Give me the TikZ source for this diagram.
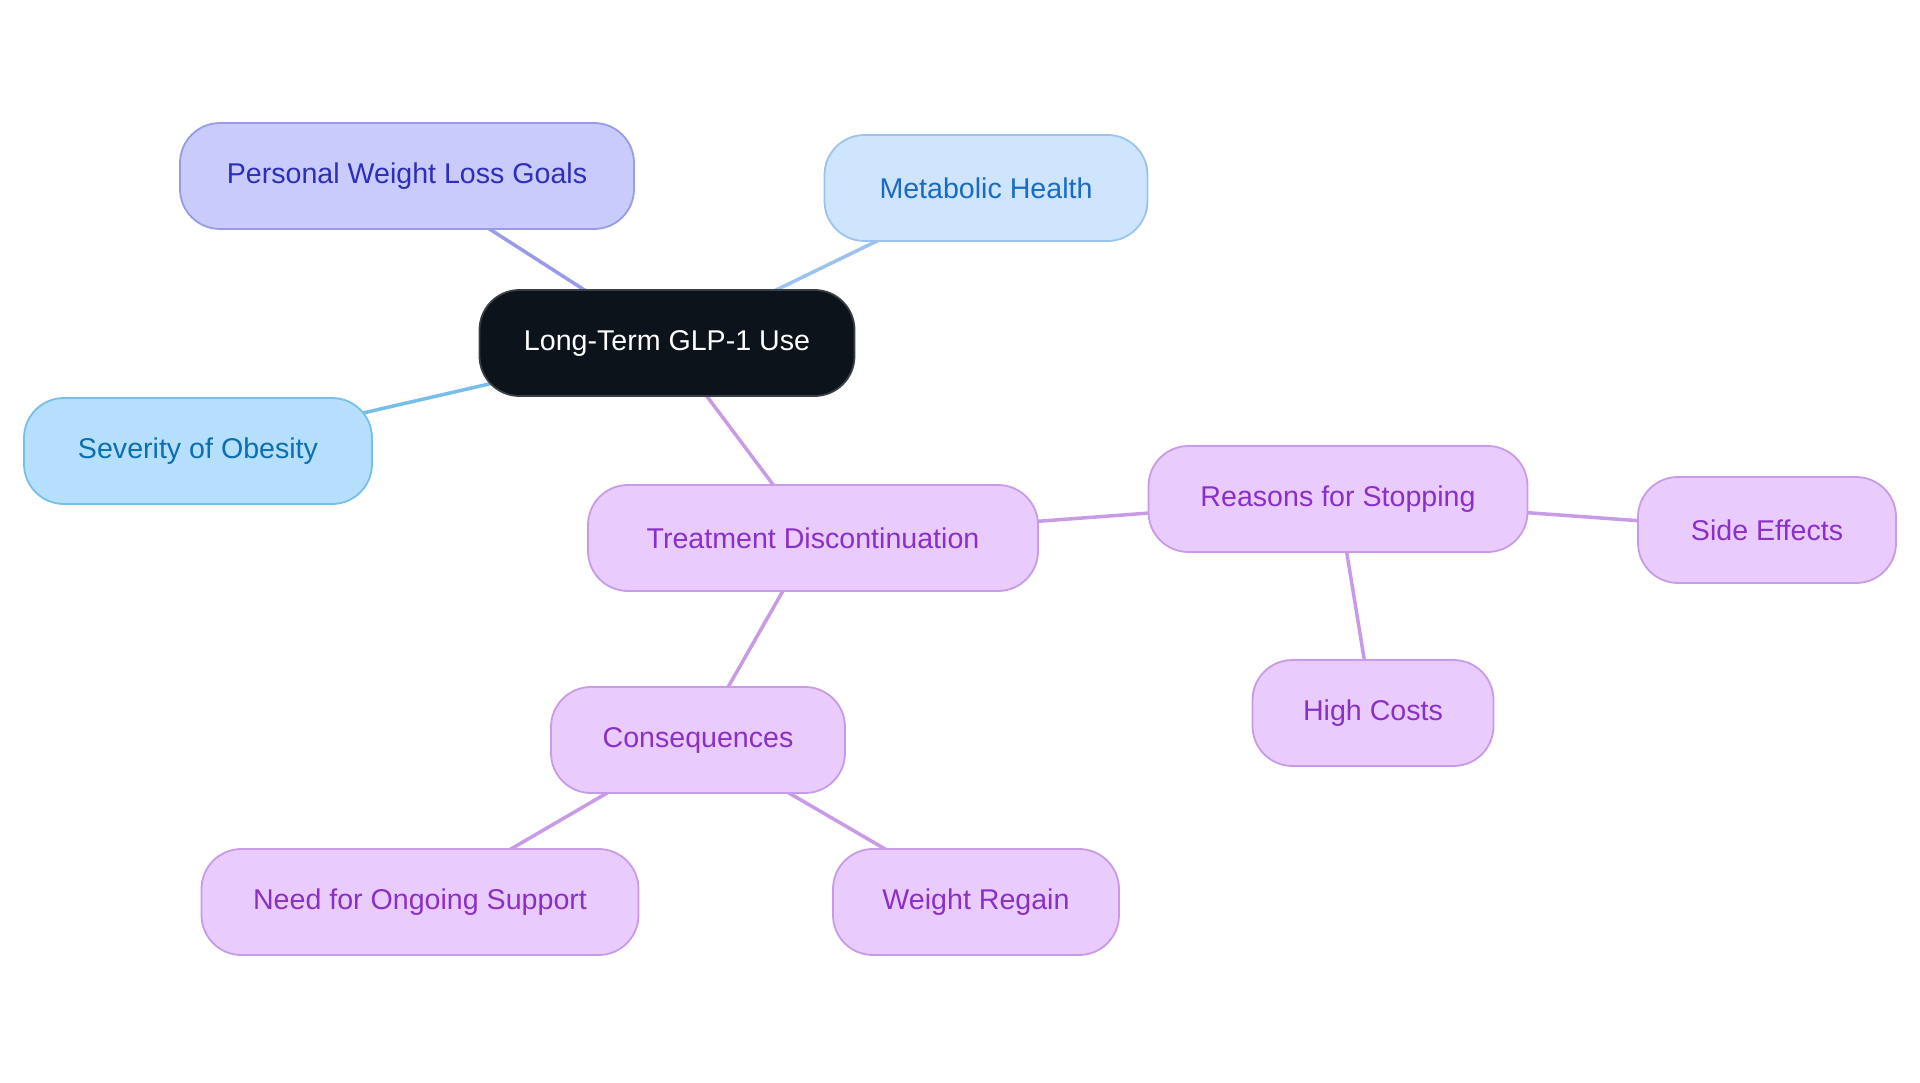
\documentclass[tikz,border=0pt]{standalone}
\usepackage{fontspec}
\setmainfont{Liberation Sans}
\usetikzlibrary{backgrounds}
\definecolor{pfill}{HTML}{C8CBFC}\definecolor{pline}{HTML}{9A9BE8}\definecolor{ptext}{HTML}{2E2FB8}
\definecolor{mfill}{HTML}{CFE5FD}\definecolor{mline}{HTML}{9CC3F0}\definecolor{mtext}{HTML}{1A6BC4}
\definecolor{sfill}{HTML}{B5DFFD}\definecolor{sline}{HTML}{78BEEB}\definecolor{stext}{HTML}{0B6FB0}
\definecolor{vfill}{HTML}{E9CCFD}\definecolor{vline}{HTML}{C89BE8}\definecolor{vtext}{HTML}{8B2FC9}
\definecolor{cfill}{HTML}{0C131A}\definecolor{cline}{HTML}{3A3F45}
\tikzset{
  box/.style={rectangle, rounded corners=40pt, minimum height=106pt, inner sep=0pt, line width=1.8pt, font=\fontsize{28.6}{32}\selectfont},
  pbox/.style={box, fill=pfill, draw=pline, text=ptext},
  mbox/.style={box, fill=mfill, draw=mline, text=mtext},
  sbox/.style={box, fill=sfill, draw=sline, text=stext},
  vbox/.style={box, fill=vfill, draw=vline, text=vtext},
  cbox/.style={box, fill=cfill, draw=cline, text=white},
  link/.style={line width=3.5pt},
}
\begin{document}
\begin{tikzpicture}[x=1pt,y=-1pt]
\useasboundingbox (0,0) rectangle (1920,1083);
\node[cbox, minimum width=375pt] (c) at (667,343) {Long-Term GLP-1 Use};
\node[pbox, minimum width=454pt] (p) at (407,176) {Personal Weight Loss Goals};
\node[mbox, minimum width=323pt] (m) at (986,188) {Metabolic Health};
\node[sbox, minimum width=348pt] (s) at (198,451) {Severity of Obesity};
\node[vbox, minimum width=450pt] (t) at (813,538) {Treatment Discontinuation};
\node[vbox, minimum width=379pt] (r) at (1338,499) {Reasons for Stopping};
\node[vbox, minimum width=258pt] (se) at (1767,530) {Side Effects};
\node[vbox, minimum width=241pt] (h) at (1373,713) {High Costs};
\node[vbox, minimum width=294pt] (q) at (698,740) {Consequences};
\node[vbox, minimum width=437pt] (n) at (420,902) {Need for Ongoing Support};
\node[vbox, minimum width=286pt] (w) at (976,902) {Weight Regain};
\begin{scope}[on background layer]
\fill[white] (0,0) rectangle (1920,1083);
\draw[link, pline] (c.center) -- (p.center);
\draw[link, mline] (c.center) -- (m.center);
\draw[link, sline] (c.center) -- (s.center);
\draw[link, vline] (c.center) -- (t.center);
\draw[link, vline] (t.center) -- (r.center);
\draw[link, vline] (r.center) -- (se.center);
\draw[link, vline] (r.center) -- (h.center);
\draw[link, vline] (t.center) -- (q.center);
\draw[link, vline] (q.center) -- (n.center);
\draw[link, vline] (q.center) -- (w.center);
\end{scope}
\end{tikzpicture}
\end{document}
